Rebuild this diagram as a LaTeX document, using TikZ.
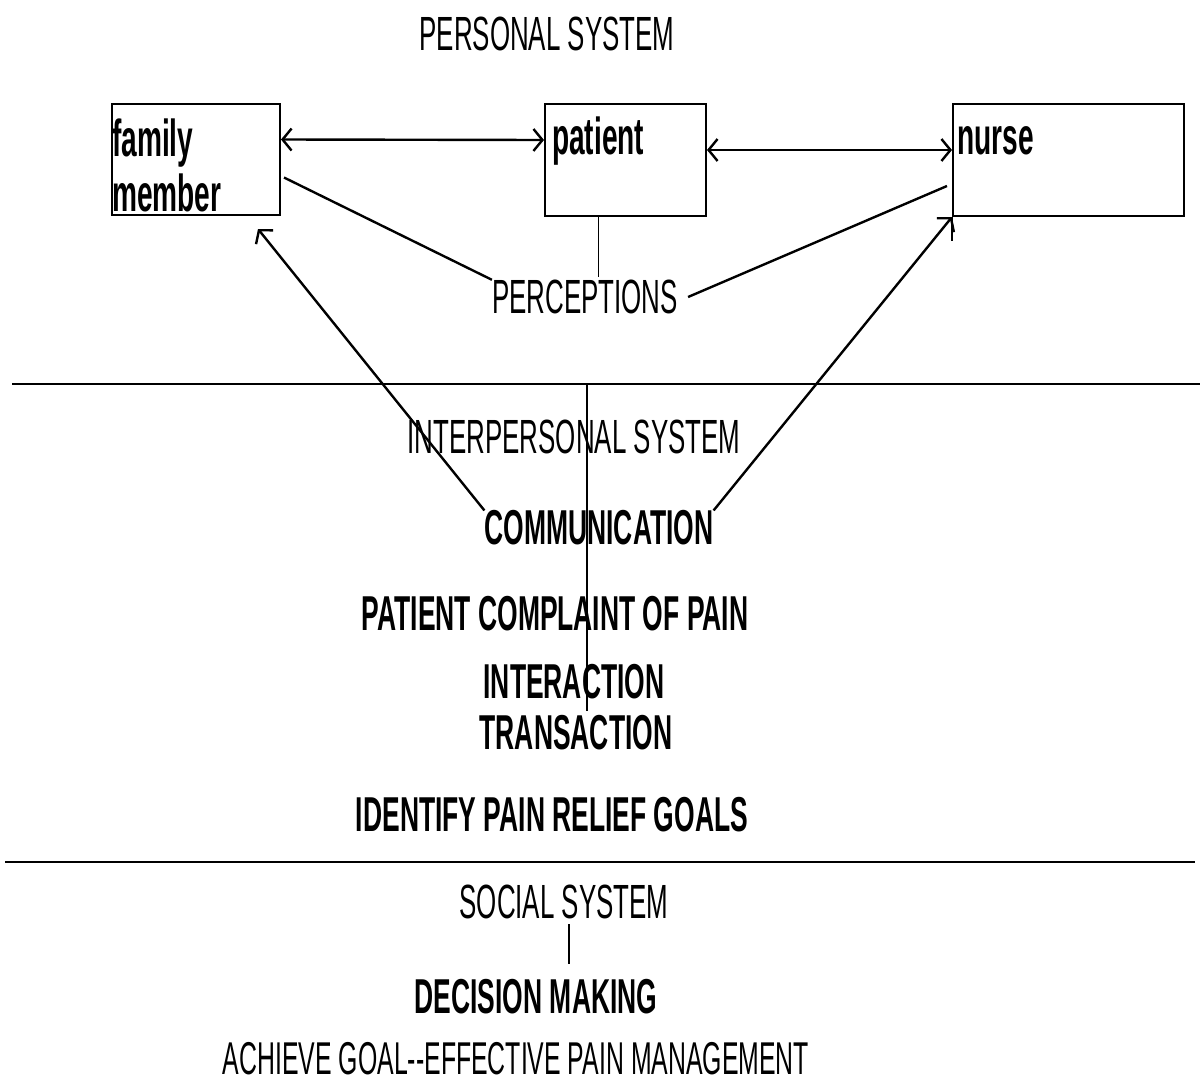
\documentclass[tikz,border=0pt]{standalone}
\usepackage{fontspec}
\setmainfont{Liberation Sans}[FakeStretch=0.54]
\usetikzlibrary{arrows.meta,calc}

\tikzset{
  box/.style={draw,line width=2pt,inner sep=0pt},
  boxtxt/.style={inner sep=0pt,align=left,font=\fontsize{52}{55}\selectfont\bfseries},
  lbl/.style={inner sep=0pt,font=\fontsize{48}{50}\selectfont},
  lblb/.style={inner sep=0pt,font=\fontsize{49}{50}\selectfont\bfseries},
  ln/.style={line width=2.4pt},
  thinln/.style={line width=1.5pt},
  rule/.style={line width=2pt}
}

\begin{document}
\begin{tikzpicture}[x=1pt,y=-1pt,>={Straight Barb[length=9pt,width=22pt]}]
\useasboundingbox (0,0) rectangle (1200,1087);

% personal system
\node[lbl] (pers) at (547,34) {PERSONAL SYSTEM};

\node[box,minimum width=168pt,minimum height=111pt] (fam) at (196,159.5) {};
\node[box,minimum width=161pt,minimum height=112pt] (pat) at (625.5,160) {};
\node[box,minimum width=231pt,minimum height=112pt] (nur) at (1068.5,160) {};
\node[boxtxt,anchor=north west] (famtxt) at ([xshift=1pt,yshift=-16pt]fam.north west) {family\\member};
\node[boxtxt,anchor=base west] (pattxt) at ([xshift=8pt,yshift=-51pt]pat.north west) {patient};
\node[boxtxt,anchor=base west] (nurtxt) at ([xshift=5pt,yshift=-51pt]nur.north west) {nurse};

\draw[ln,<->] ([yshift=20pt]fam.east) -- ([yshift=20pt]pat.west);
\draw[ln,<->] ([yshift=10pt]pat.east) -- ([yshift=10pt]nur.west);

\node[lbl] (percep) at (585,297) {PERCEPTIONS};
\draw[ln] ([xshift=3pt,yshift=-18pt]fam.east) -- (percep.north west);
\draw[thinln] ([xshift=-27pt]pat.south) -- ([xshift=-27pt,yshift=3pt]pat.south |- percep.north);
\draw[ln] ([xshift=10pt]percep.east) -- ([xshift=-5pt,yshift=-26pt]nur.west);

% interpersonal system
\draw[rule] (12,384) -- (1200,384);
\coordinate (sp) at (587,384);

\node[lbl] (inter) at (574,437) {INTERPERSONAL SYSTEM};
\node[lblb] (comm) at (599,528) {COMMUNICATION};
\node[lblb] (compl) at (555,614) {PATIENT COMPLAINT OF PAIN};
\node[lblb] (interact) at (574,682) {INTERACTION};
\node[lblb] (trans) at (576,733) {TRANSACTION};
\node[lblb] (ident) at (552,815) {IDENTIFY PAIN RELIEF GOALS};

\draw[thinln] (sp) -- ([yshift=4pt]sp |- trans.north);
\draw[ln,->] (comm.north west) -- ([xshift=-23pt,yshift=-13pt]fam.south east);
\draw[ln,->] (comm.north east) -- (nur.south west);
\draw[box] (nur.south west) -- ++(0,24);

% social system
\draw[rule] (5,862) -- (1195,862);
\node[lbl] (soc) at (564,902) {SOCIAL SYSTEM};
\node[lblb] (dec) at (536,997) {DECISION MAKING};
\node[lbl,font=\fontsize{46}{50}\selectfont] (ach) at (516,1059) {ACHIEVE GOAL-{}-EFFECTIVE PAIN MANAGEMENT};
\draw[thinln,shorten <=5pt,shorten >=15pt] ([xshift=5pt]soc.south) -- ([xshift=5pt]soc.south |- dec.north);

\end{tikzpicture}
\end{document}
